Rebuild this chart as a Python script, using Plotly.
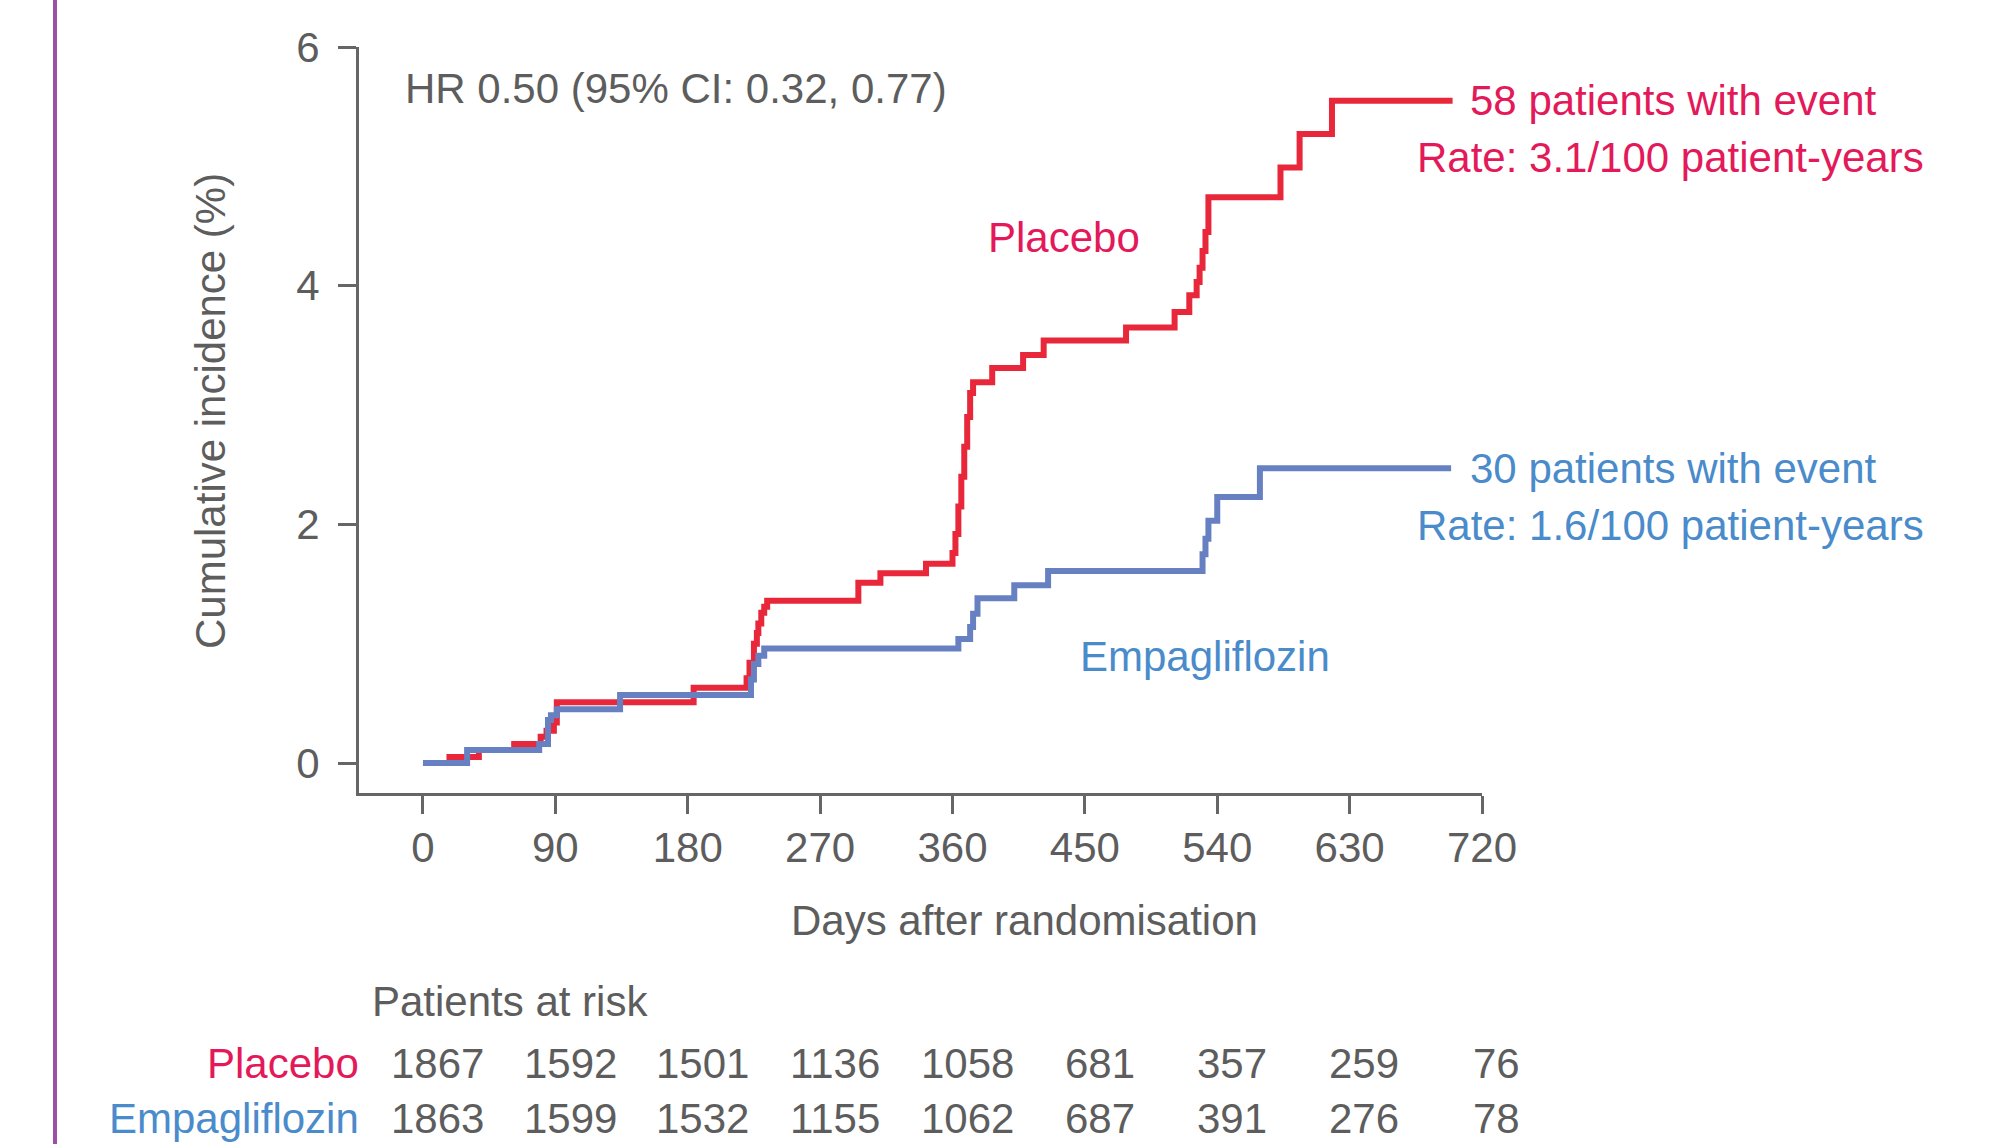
import plotly.graph_objects as go

# ---------------- data ----------------
placebo_days = [0, 18, 38, 62, 80, 84, 89, 91, 184, 220, 222, 225, 227, 228, 230, 232, 234,
                296, 311, 342, 360, 362, 364, 366, 368, 370, 372, 374, 387, 408, 422,
                478, 511, 521, 526, 528, 530, 532, 534, 583, 596, 618, 700]
placebo_vals = [0, 0.05, 0.11, 0.16, 0.22, 0.27, 0.34, 0.51, 0.63, 0.71, 0.84, 1.0, 1.09, 1.17, 1.26, 1.31, 1.36,
                1.51, 1.59, 1.67, 1.76, 1.92, 2.15, 2.40, 2.65, 2.90, 3.10, 3.19, 3.31, 3.42, 3.54,
                3.65, 3.78, 3.92, 4.03, 4.15, 4.29, 4.45, 4.74, 4.99, 5.27, 5.55, 5.55]

empa_days = [0, 30, 79, 85, 87, 91, 134, 223, 225, 228, 232, 364, 372, 374, 377, 402, 425,
             530, 532, 534, 540, 569, 699]
empa_vals = [0, 0.11, 0.16, 0.36, 0.40, 0.45, 0.57, 0.70, 0.83, 0.90, 0.96, 1.04, 1.14, 1.25, 1.38, 1.49, 1.61,
             1.75, 1.88, 2.03, 2.23, 2.47, 2.47]

x_ticks = [0, 90, 180, 270, 360, 450, 540, 630, 720]
y_ticks = [0, 2, 4, 6]

risk_placebo = [1867, 1592, 1501, 1136, 1058, 681, 357, 259, 76]
risk_empa = [1863, 1599, 1532, 1155, 1062, 687, 391, 276, 78]

hr_text = "HR 0.50 (95% CI: 0.32, 0.77)"
placebo_summary = ["58 patients with event", "Rate: 3.1/100 patient-years"]
empa_summary = ["30 patients with event", "Rate: 1.6/100 patient-years"]

# ---------------- style ----------------
FONT = "Liberation Sans, Arial, sans-serif"
FS = 42
GRAY = "#5d5d5d"
AXIS = "#666666"
RED_LINE = "#E8283A"
RED_TEXT = "#E3195A"
BLUE_LINE = "#6680C2"
BLUE_TEXT = "#4A8BCB"
PURPLE = "#9B4FA8"

X_RANGE = [-43.5, 720]
Y_RANGE = [-0.251, 6.0]

fig = go.Figure()
fig.add_trace(go.Scatter(x=placebo_days, y=placebo_vals, mode="lines",
                         line=dict(color=RED_LINE, width=6, shape="hv"),
                         name="Placebo", showlegend=False, hoverinfo="skip"))
fig.add_trace(go.Scatter(x=empa_days, y=empa_vals, mode="lines",
                         line=dict(color=BLUE_LINE, width=6, shape="hv"),
                         name="Empagliflozin", showlegend=False, hoverinfo="skip"))

W, H = 2000, 1144
L, R, T, B = 359, 518, 47, 351

fig.update_layout(
    width=W, height=H,
    margin=dict(l=L, r=R, t=T, b=B, pad=0),
    paper_bgcolor="white", plot_bgcolor="white",
    font=dict(family=FONT, size=FS, color=GRAY),
    showlegend=False,
    xaxis=dict(range=X_RANGE, tickvals=x_ticks, ticktext=[str(v) for v in x_ticks],
               showgrid=False, zeroline=False, showline=True, linecolor=AXIS, linewidth=3,
               ticks="outside", ticklen=18, tickwidth=3, tickcolor=AXIS,
               tickfont=dict(family=FONT, size=FS, color=GRAY), ticklabelstandoff=-2,
               fixedrange=True),
    yaxis=dict(range=Y_RANGE, tickvals=y_ticks, ticktext=[str(v) for v in y_ticks],
               showgrid=False, zeroline=False, showline=True, linecolor=AXIS, linewidth=3,
               ticks="outside", ticklen=18, tickwidth=3, tickcolor=AXIS,
               tickfont=dict(family=FONT, size=FS, color=GRAY), ticklabelstandoff=10,
               fixedrange=True),
)

plot_w = W - L - R
plot_h = H - T - B


def px_to_paper_x(X):
    return (X - L) / plot_w


def px_to_paper_y(Y):
    return (H - B - Y) / plot_h


def day_to_paper(d):
    return (d - X_RANGE[0]) / (X_RANGE[1] - X_RANGE[0])


def val_to_paper(v):
    return (v - Y_RANGE[0]) / (Y_RANGE[1] - Y_RANGE[0])


ann = []
# HR text
ann.append(dict(x=-13.6, y=5.65, xref="x", yref="y", text=hr_text, showarrow=False,
                xanchor="left", yanchor="middle", font=dict(size=FS, color=GRAY, family=FONT)))
# curve labels
ann.append(dict(x=383, y=4.40, xref="x", yref="y", text="Placebo", showarrow=False,
                xanchor="left", yanchor="middle", font=dict(size=FS, color=RED_TEXT, family=FONT)))
ann.append(dict(x=445, y=0.89, xref="x", yref="y", text="Empagliflozin", showarrow=False,
                xanchor="left", yanchor="middle", font=dict(size=FS, color=BLUE_TEXT, family=FONT)))
# summaries at the right
for lines, yv, col in [(placebo_summary, placebo_vals[-1], RED_TEXT), (empa_summary, empa_vals[-1], BLUE_TEXT)]:
    ann.append(dict(x=day_to_paper(850), y=val_to_paper(yv), xref="paper", yref="paper", text=lines[0],
                    showarrow=False, xanchor="center", yanchor="middle",
                    font=dict(size=FS, color=col, family=FONT)))
    ann.append(dict(x=day_to_paper(848), y=val_to_paper(yv - 0.48), xref="paper", yref="paper", text=lines[1],
                    showarrow=False, xanchor="center", yanchor="middle",
                    font=dict(size=FS, color=col, family=FONT)))
# axis titles
ann.append(dict(x=px_to_paper_x(210), y=px_to_paper_y(411), xref="paper", yref="paper",
                text="Cumulative incidence (%)", textangle=-90, showarrow=False,
                xanchor="center", yanchor="middle", font=dict(size=FS, color=GRAY, family=FONT)))
ann.append(dict(x=day_to_paper(409), y=px_to_paper_y(920), xref="paper", yref="paper",
                text="Days after randomisation", showarrow=False,
                xanchor="center", yanchor="middle", font=dict(size=FS, color=GRAY, family=FONT)))
# patients at risk
ann.append(dict(x=day_to_paper(-36), y=px_to_paper_y(1001), xref="paper", yref="paper",
                text="Patients at risk", showarrow=False,
                xanchor="left", yanchor="middle", font=dict(size=FS, color=GRAY, family=FONT)))
for label, vals, col, Y in [("Placebo", risk_placebo, RED_TEXT, 1063), ("Empagliflozin", risk_empa, BLUE_TEXT, 1118)]:
    ann.append(dict(x=day_to_paper(-42), y=px_to_paper_y(Y), xref="paper", yref="paper", text=label,
                    showarrow=False, xanchor="right", yanchor="middle",
                    font=dict(size=FS, color=col, family=FONT)))
    for d, v in zip(x_ticks, vals):
        ann.append(dict(x=day_to_paper(d + 10), y=px_to_paper_y(Y), xref="paper", yref="paper", text=str(v),
                        showarrow=False, xanchor="center", yanchor="middle",
                        font=dict(size=FS, color=GRAY, family=FONT)))

fig.update_layout(annotations=ann)

# purple vertical rule at the left edge
fig.add_shape(type="line", xref="paper", yref="paper",
              x0=px_to_paper_x(55), x1=px_to_paper_x(55), y0=px_to_paper_y(0), y1=px_to_paper_y(H),
              line=dict(color=PURPLE, width=4))

fig.write_html("out.html", config={"displayModeBar": False},
               post_script="document.body.style.margin='0px';document.body.style.padding='0px';"
                           "document.body.style.overflow='hidden';")
